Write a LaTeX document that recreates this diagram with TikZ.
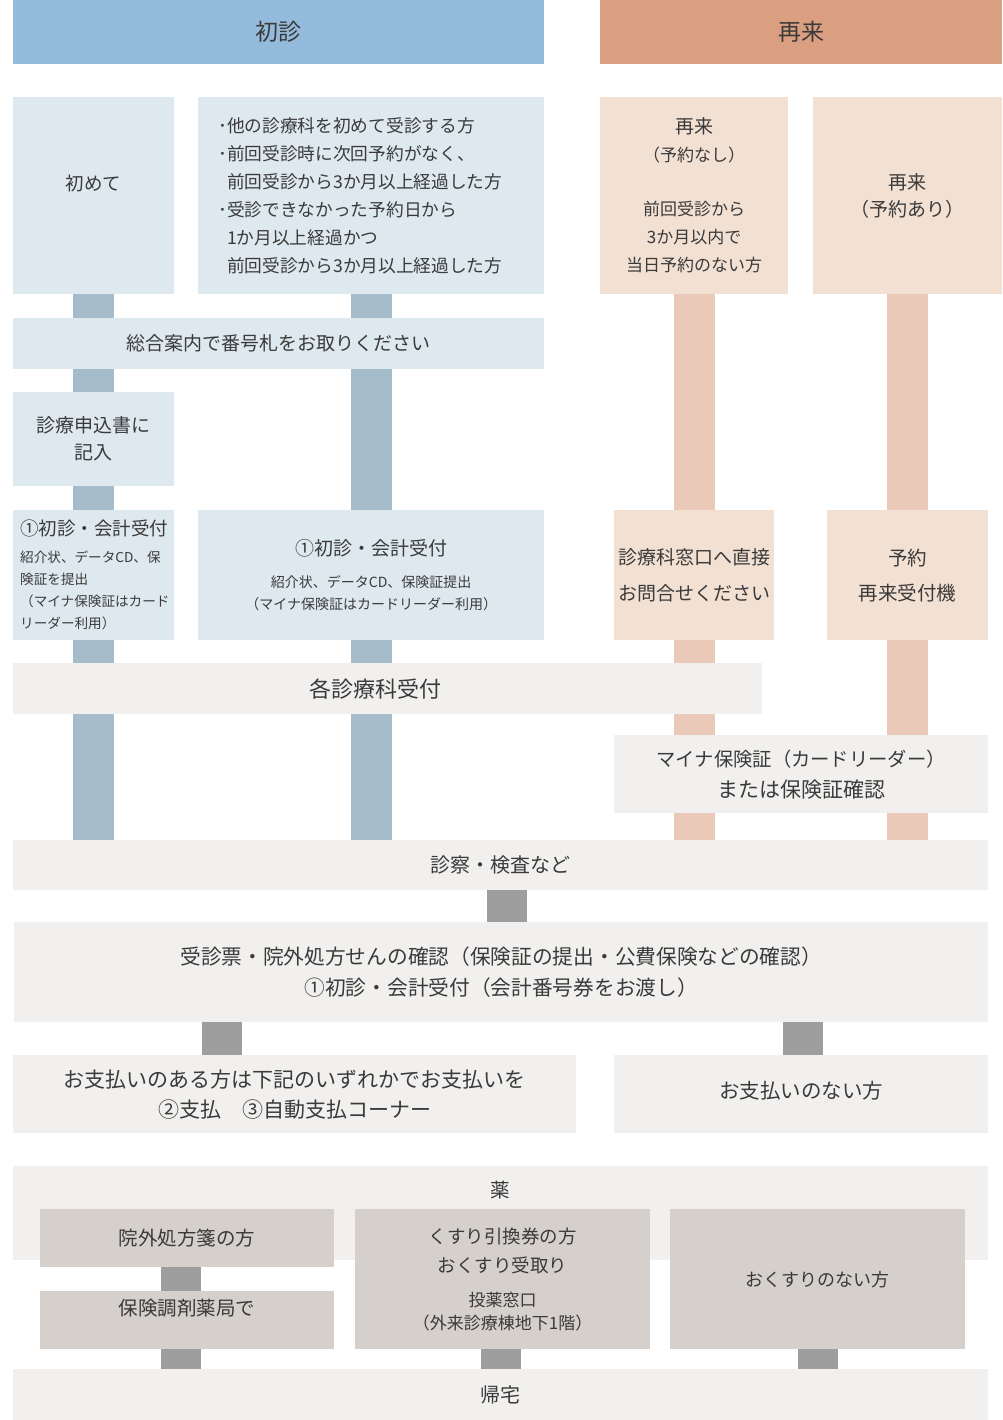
\documentclass[tikz,border=0pt]{standalone}
\usepackage{fontspec}
\setmainfont{Noto Sans CJK JP}
\usetikzlibrary{backgrounds}
\definecolor{hdrB}{HTML}{94BBDB}
\definecolor{hdrO}{HTML}{D99F80}
\definecolor{boxB}{HTML}{DDE9EF}
\definecolor{boxO}{HTML}{F2E0D3}
\definecolor{boxG}{HTML}{F1F0EE}
\definecolor{boxM}{HTML}{D5D0CB}
\definecolor{conB}{HTML}{A5BCCB}
\definecolor{conO}{HTML}{EBC9B8}
\definecolor{conG}{HTML}{9E9E9E}
\definecolor{txt}{HTML}{3A3A3A}
\newcommand\fz[2]{\fontsize{#1}{#2}\selectfont}
\tikzset{
  bx/.style={anchor=north west, inner sep=0pt, align=center, text=txt},
  cb/.style={draw=conB, line width=40.5pt},
  co/.style={draw=conO, line width=40.5pt},
  cg/.style={draw=conG, line width=40.5pt},
}
\begin{document}
\begin{tikzpicture}[x=1pt,y=-1pt]
\useasboundingbox (0,0) rectangle (1002,1420);
% column coordinates
\coordinate (c1) at (93.5,0);
\coordinate (c2) at (371.5,0);
\coordinate (c3) at (694.5,0);
\coordinate (c4) at (907.5,0);
\coordinate (g1) at (507,0);
\coordinate (g2) at (222,0);
\coordinate (g3) at (803,0);
\coordinate (g4) at (181,0);
\coordinate (g5) at (501,0);
\coordinate (g6) at (818,0);
% headers
\node[bx, fill=hdrB, minimum width=531pt, minimum height=64pt, font=\fz{23}{28}] (h1) at (13,0) {初診};
\node[bx, fill=hdrO, minimum width=402pt, minimum height=64pt, font=\fz{23}{28}] (h2) at (600,0) {再来};
% row 1
\node[bx, fill=boxB, minimum width=161pt, minimum height=197pt, text height=17pt, text depth=27pt, font=\fz{18.5}{28}] (n1) at (13,97) {初めて};
\node[bx, fill=boxB, align=left, text width=306pt, inner xsep=20pt, minimum height=197pt, font=\fz{17.7}{28}] (n2) at (198,97)
  {･他の診療科を初めて受診する方\\
   ･前回受診時に次回予約がなく、\\
   \phantom{･}前回受診から3か月以上経過した方\\
   ･受診できなかった予約日から\\
   \phantom{･}1か月以上経過かつ\\
   \phantom{･}前回受診から3か月以上経過した方};
\node[bx, fill=boxO, minimum width=188pt, minimum height=197pt, font=\fz{17}{28}] (n3) at (600,97)
  {{\fz{19}{28}再来}\\（予約なし）\\[26pt]前回受診から\\3か月以内で\\当日予約のない方};
\node[bx, fill=boxO, minimum width=189pt, minimum height=197pt, font=\fz{19}{27}] (n4) at (813,97)
  {再来\\（予約あり）};
% row 2
\node[bx, fill=boxB, minimum width=531pt, minimum height=51pt, font=\fz{19}{28}] (n5) at (13,318) {総合案内で番号札をお取りください};
\node[bx, fill=boxB, minimum width=161pt, minimum height=94pt, font=\fz{19}{27}] (n6) at (13,392) {診療申込書に\\記入};
% row 3
\node[bx, fill=boxB, align=left, text width=147pt, inner xsep=7pt, minimum height=130pt, font=\fz{13.6}{22}] (n7) at (13,510)
  {{\fz{18.5}{22}①初診・会計受付}\\[5pt]紹介状、データCD、保\\険証を提出\\（マイナ保険証はカード\\リーダー利用）};
\node[bx, fill=boxB, minimum width=346pt, minimum height=130pt, font=\fz{14}{22}] (n8) at (198,510)
  {{\fz{19}{22}①初診・会計受付}\\[10pt]紹介状、データCD、保険証提出\\（マイナ保険証はカードリーダー利用）};
\node[bx, fill=boxO, minimum width=160pt, minimum height=130pt, font=\fz{19}{36}] (n9) at (614,510)
  {診療科窓口へ直接\\お問合せください};
\node[bx, fill=boxO, minimum width=161pt, minimum height=130pt, font=\fz{19.5}{35}] (n10) at (827,510)
  {予約\\再来受付機};
% row 4
\node[bx, fill=boxG, minimum width=749pt, minimum height=51pt, font=\fz{22}{28}] (n11) at (13,663) {\hspace*{-25pt}各診療科受付};
\node[bx, fill=boxG, minimum width=374pt, minimum height=78pt, font=\fz{19.3}{31}] (n12) at (614,735)
  {マイナ保険証（カードリーダー）\\{\fz{21}{31}または保険証確認}};
\node[bx, fill=boxG, minimum width=975pt, minimum height=50pt, font=\fz{20}{28}] (n13) at (13,840) {診察・検査など};
\node[bx, fill=boxG, minimum width=974pt, minimum height=100pt, font=\fz{20.7}{31}] (n14) at (14,922)
  {受診票・院外処方せんの確認（保険証の提出・公費保険などの確認）\\①初診・会計受付（会計番号券をお渡し）};
\node[bx, fill=boxG, minimum width=563pt, minimum height=78pt, font=\fz{21}{30}] (n15) at (13,1055)
  {お支払いのある方は下記のいずれかでお支払いを\\②支払　③自動支払コーナー};
\node[bx, fill=boxG, minimum width=374pt, minimum height=78pt, text height=17pt, text depth=8pt, font=\fz{20.5}{28}] (n16) at (614,1055) {お支払いのない方};
% medicine
\node[bx, fill=boxG, minimum width=975pt, minimum height=94pt,
  label={[anchor=center, yshift=-24pt, inner sep=0pt, text=txt, font=\fz{19.5}{28}]north:薬}] (n17) at (13,1166) {};
\node[bx, fill=boxM, minimum width=294pt, minimum height=58pt, font=\fz{19.5}{28}] (n18) at (40,1209) {院外処方箋の方};
\node[bx, fill=boxM, minimum width=294pt, minimum height=58pt, text height=17pt, text depth=26pt, font=\fz{19.5}{28}] (n19) at (40,1291) {保険調剤薬局で};
\node[bx, fill=boxM, minimum width=295pt, minimum height=140pt, font=\fz{18.5}{29}] (n20) at (355,1209)
  {くすり引換券の方\\おくすり受取り\\[5pt]{\fz{17}{23}投薬窓口}\\[-6pt]{\fz{17}{23}（外来診療棟地下1階）}};
\node[bx, fill=boxM, minimum width=295pt, minimum height=140pt, font=\fz{18}{28}] (n22) at (670,1209) {おくすりのない方};
\node[bx, fill=boxG, minimum width=975pt, minimum height=51pt, font=\fz{20}{28}] (n21) at (13,1369) {帰宅};
% connectors
\begin{scope}[on background layer]
\draw[cb] (n1.south -| c1) -- (n5.north -| c1);
\draw[cb] (n5.south -| c1) -- (n6.north -| c1);
\draw[cb] (n6.south -| c1) -- (n7.north -| c1);
\draw[cb] (n7.south -| c1) -- (n11.north -| c1);
\draw[cb] (n11.south -| c1) -- (n13.north -| c1);
\draw[cb] (n2.south -| c2) -- (n5.north -| c2);
\draw[cb] (n5.south -| c2) -- (n8.north -| c2);
\draw[cb] (n8.south -| c2) -- (n11.north -| c2);
\draw[cb] (n11.south -| c2) -- (n13.north -| c2);
\draw[co] (n3.south -| c3) -- (n9.north -| c3);
\draw[co] (n9.south -| c3) -- (n12.north -| c3);
\draw[co] (n12.south -| c3) -- (n13.north -| c3);
\draw[co] (n4.south -| c4) -- (n10.north -| c4);
\draw[co] (n10.south -| c4) -- (n12.north -| c4);
\draw[co] (n12.south -| c4) -- (n13.north -| c4);
\draw[cg] (n13.south -| g1) -- (n14.north -| g1);
\draw[cg] (n14.south -| g2) -- (n15.north -| g2);
\draw[cg] (n14.south -| g3) -- (n16.north -| g3);
\draw[cg] (n18.south -| g4) -- (n19.north -| g4);
\draw[cg] (n19.south -| g4) -- (n21.north -| g4);
\draw[cg] (n20.south -| g5) -- (n21.north -| g5);
\draw[cg] (n22.south -| g6) -- (n21.north -| g6);
\end{scope}
\end{tikzpicture}
\end{document}
